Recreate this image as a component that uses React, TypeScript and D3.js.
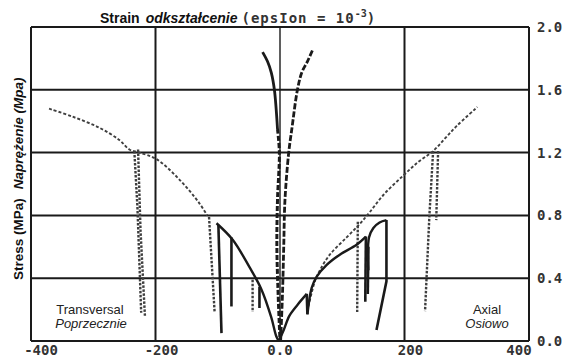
import React from 'react';
import * as d3 from 'd3';

type P = [number, number];

const xTicks = [-400, -200, 0, 200, 400];
const xTickLabels = ['-400', '-200', '0.0', '200', '400'];
const yTicks = [0, 0.4, 0.8, 1.2, 1.6, 2.0];
const yTickLabels = ['0.0', '0.4', '0.8', '1.2', '1.6', '2.0'];

// Transversal (left) curves: [strain, stress]
const transGrayCurve: P[] = [[-371, 1.48], [-334, 1.43], [-291, 1.36], [-258, 1.28], [-242, 1.22], [-226, 1.2], [-199, 1.16], [-162, 1.03], [-130, 0.88], [-117, 0.8]];
const transGrayDrops: P[][] = [
  [[-234, 1.21], [-229, 0.85], [-223, 0.18]],
  [[-228, 1.22], [-224, 0.7], [-217, 0.16]],
  [[-114, 0.79], [-105, 0.18]],
  [[-44, 0.39], [-44, 0.185]],
];
const transSolidCurve: P[] = [[-102, 0.75], [-76, 0.645], [-49, 0.47], [-30, 0.33], [-14, 0.15], [-6, 0.03], [-2, 0]];
const transSolidDrops: P[][] = [
  [[-99, 0.74], [-94, 0.05]],
  [[-78, 0.66], [-78, 0.22]],
  [[-33, 0.345], [-33, 0.21]],
];

// Central curves
const centerLeft: P[] = [[-28, 1.84], [-20, 1.78], [-14, 1.71], [-9, 1.6], [-4, 1.35], [-1, 1.2], [-4, 0.9], [-5, 0.6], [-3, 0.3], [0, 0]];
const centerRight: P[] = [[52, 1.85], [44, 1.78], [35, 1.71], [28, 1.6], [19, 1.35], [14, 1.2], [8, 0.9], [6, 0.6], [4, 0.3], [1, 0]];

// Axial (right) curves
const axialGrayCurve: P[] = [[44, 0.19], [56, 0.38], [64, 0.45], [80, 0.55], [107, 0.66], [128, 0.745], [144, 0.82], [166, 0.93], [197, 1.05], [222, 1.14], [246, 1.21], [265, 1.29], [284, 1.37], [317, 1.49]];
const axialGrayDrops: P[][] = [
  [[125, 0.76], [124, 0.185]],
  [[246, 1.21], [240, 0.8], [233, 0.19]],
  [[254, 1.21], [251, 0.77]],
];
const axialSolidCurves: P[][] = [
  [[-2, 0], [6, 0.07], [15, 0.16], [28, 0.23], [43, 0.3]],
  [[44, 0.17], [51, 0.34], [59, 0.41], [75, 0.485], [96, 0.55], [123, 0.613], [138, 0.665]],
  [[142, 0.45], [143, 0.66], [150, 0.72], [160, 0.755], [171, 0.77]],
];
const axialSolidDrops: P[][] = [
  [[43, 0.3], [44, 0.17]],
  [[138, 0.665], [137, 0.25]],
  [[142, 0.6], [141, 0.3]],
  [[171, 0.77], [171, 0.38], [155, 0.07]],
];

const W = 570, H = 357;
const x = d3.scaleLinear().domain([-400, 400]).range([31, 529]);
const y = d3.scaleLinear().domain([0, 2]).range([341, 27]);

const smooth = d3.line<P>().x(d => x(d[0])).y(d => y(d[1])).curve(d3.curveCatmullRom.alpha(0.5));
const straight = d3.line<P>().x(d => x(d[0])).y(d => y(d[1]));

const INK = '#1a1a1a';
const GRAY = '#3f3f3f';

export default function App() {
  const mono = '"DejaVu Sans Mono", monospace';
  const sans = '"Liberation Sans", Arial, sans-serif';
  return (
    <svg width={W} height={H} style={{ position: 'fixed', left: 0, top: 0, background: '#fff' }}>
      <rect x={0} y={0} width={W} height={H} fill="#fff" />
      {/* grid */}
      {yTicks.map(t => (
        <line key={'h' + t} x1={x(-400)} x2={x(400)} y1={y(t)} y2={y(t)} stroke={INK} strokeWidth={2} />
      ))}
      {xTicks.map(t => (
        <line key={'v' + t} x1={x(t)} x2={x(t)} y1={y(0)} y2={y(2)} stroke={INK} strokeWidth={t === 0 ? 1.4 : 2} />
      ))}

      {/* gray dotted curves */}
      {[transGrayCurve, axialGrayCurve].map((c, i) => (
        <path key={'gc' + i} d={smooth(c) || ''} fill="none" stroke={GRAY} strokeWidth={1.9} strokeDasharray="3,2" />
      ))}
      {[...transGrayDrops, ...axialGrayDrops].map((c, i) => (
        <path key={'gd' + i} d={straight(c) || ''} fill="none" stroke={GRAY} strokeWidth={2.4} strokeDasharray="2.5,1.5" />
      ))}

      {/* solid curves */}
      {[transSolidCurve, ...axialSolidCurves].map((c, i) => (
        <path key={'sc' + i} d={smooth(c) || ''} fill="none" stroke={INK} strokeWidth={2.4} />
      ))}
      {[...transSolidDrops, ...axialSolidDrops].map((c, i) => (
        <path key={'sd' + i} d={straight(c) || ''} fill="none" stroke={INK} strokeWidth={2.6} />
      ))}

      {/* central curves */}
      <path d={smooth(centerLeft.slice(0, 5)) || ''} fill="none" stroke={INK} strokeWidth={2.8} />
      <path d={smooth(centerLeft.slice(4)) || ''} fill="none" stroke={INK} strokeWidth={3} strokeDasharray="5,2" />
      <path d={smooth(centerRight) || ''} fill="none" stroke={INK} strokeWidth={2.8} strokeDasharray="6,2" />

      {/* right tick labels */}
      {yTicks.map((t, i) => (
        <text key={'yl' + t} x={537} y={y(t) + 5} fontFamily={mono} fontWeight="bold" fontSize={14} fill="#333">{yTickLabels[i]}</text>
      ))}
      {/* bottom tick labels */}
      {xTicks.map((t, i) => (
        <text key={'xl' + t} x={Math.min(519, Math.max(41, x(t) + (t === 0 ? 0 : 6)))} y={355} textAnchor="middle" fontFamily={mono} fontWeight="bold" fontSize={14} fill="#333">{xTickLabels[i]}</text>
      ))}

      {/* title */}
      <text x={100} y={23} fontFamily={sans} fontSize={14} fill="#111">
        <tspan fontWeight="bold">Strain</tspan>
        <tspan dx={6} fontWeight="bold" fontStyle="italic">odkształcenie</tspan>
        <tspan dx={4} fontFamily={mono} fontWeight="bold" fontSize={14} letterSpacing={1} fill="#333">(epsIon = 10</tspan>
        <tspan fontFamily={mono} fontWeight="bold" fontSize={10} dy={-6} fill="#333">-3</tspan>
        <tspan fontFamily={mono} fontWeight="bold" fontSize={14} dy={6} fill="#333">)</tspan>
      </text>

      {/* y label */}
      <text transform={`translate(23,280) rotate(-90)`} fontFamily={sans} fontSize={13.5} fill="#111">
        <tspan fontWeight="bold">Stress (MPa)</tspan>
        <tspan dx={9} fontWeight="bold" fontStyle="italic">Naprężenie (Mpa)</tspan>
      </text>

      {/* corner notes */}
      <text x={90} y={314} textAnchor="middle" fontFamily={sans} fontSize={13} fill="#222">Transversal</text>
      <text x={91} y={328} textAnchor="middle" fontFamily={sans} fontSize={13} fontStyle="italic" fill="#222">Poprzecznie</text>
      <text x={487} y={314} textAnchor="middle" fontFamily={sans} fontSize={13} fill="#222">Axial</text>
      <text x={487} y={328} textAnchor="middle" fontFamily={sans} fontSize={13} fontStyle="italic" fill="#222">Osiowo</text>
    </svg>
  );
}
